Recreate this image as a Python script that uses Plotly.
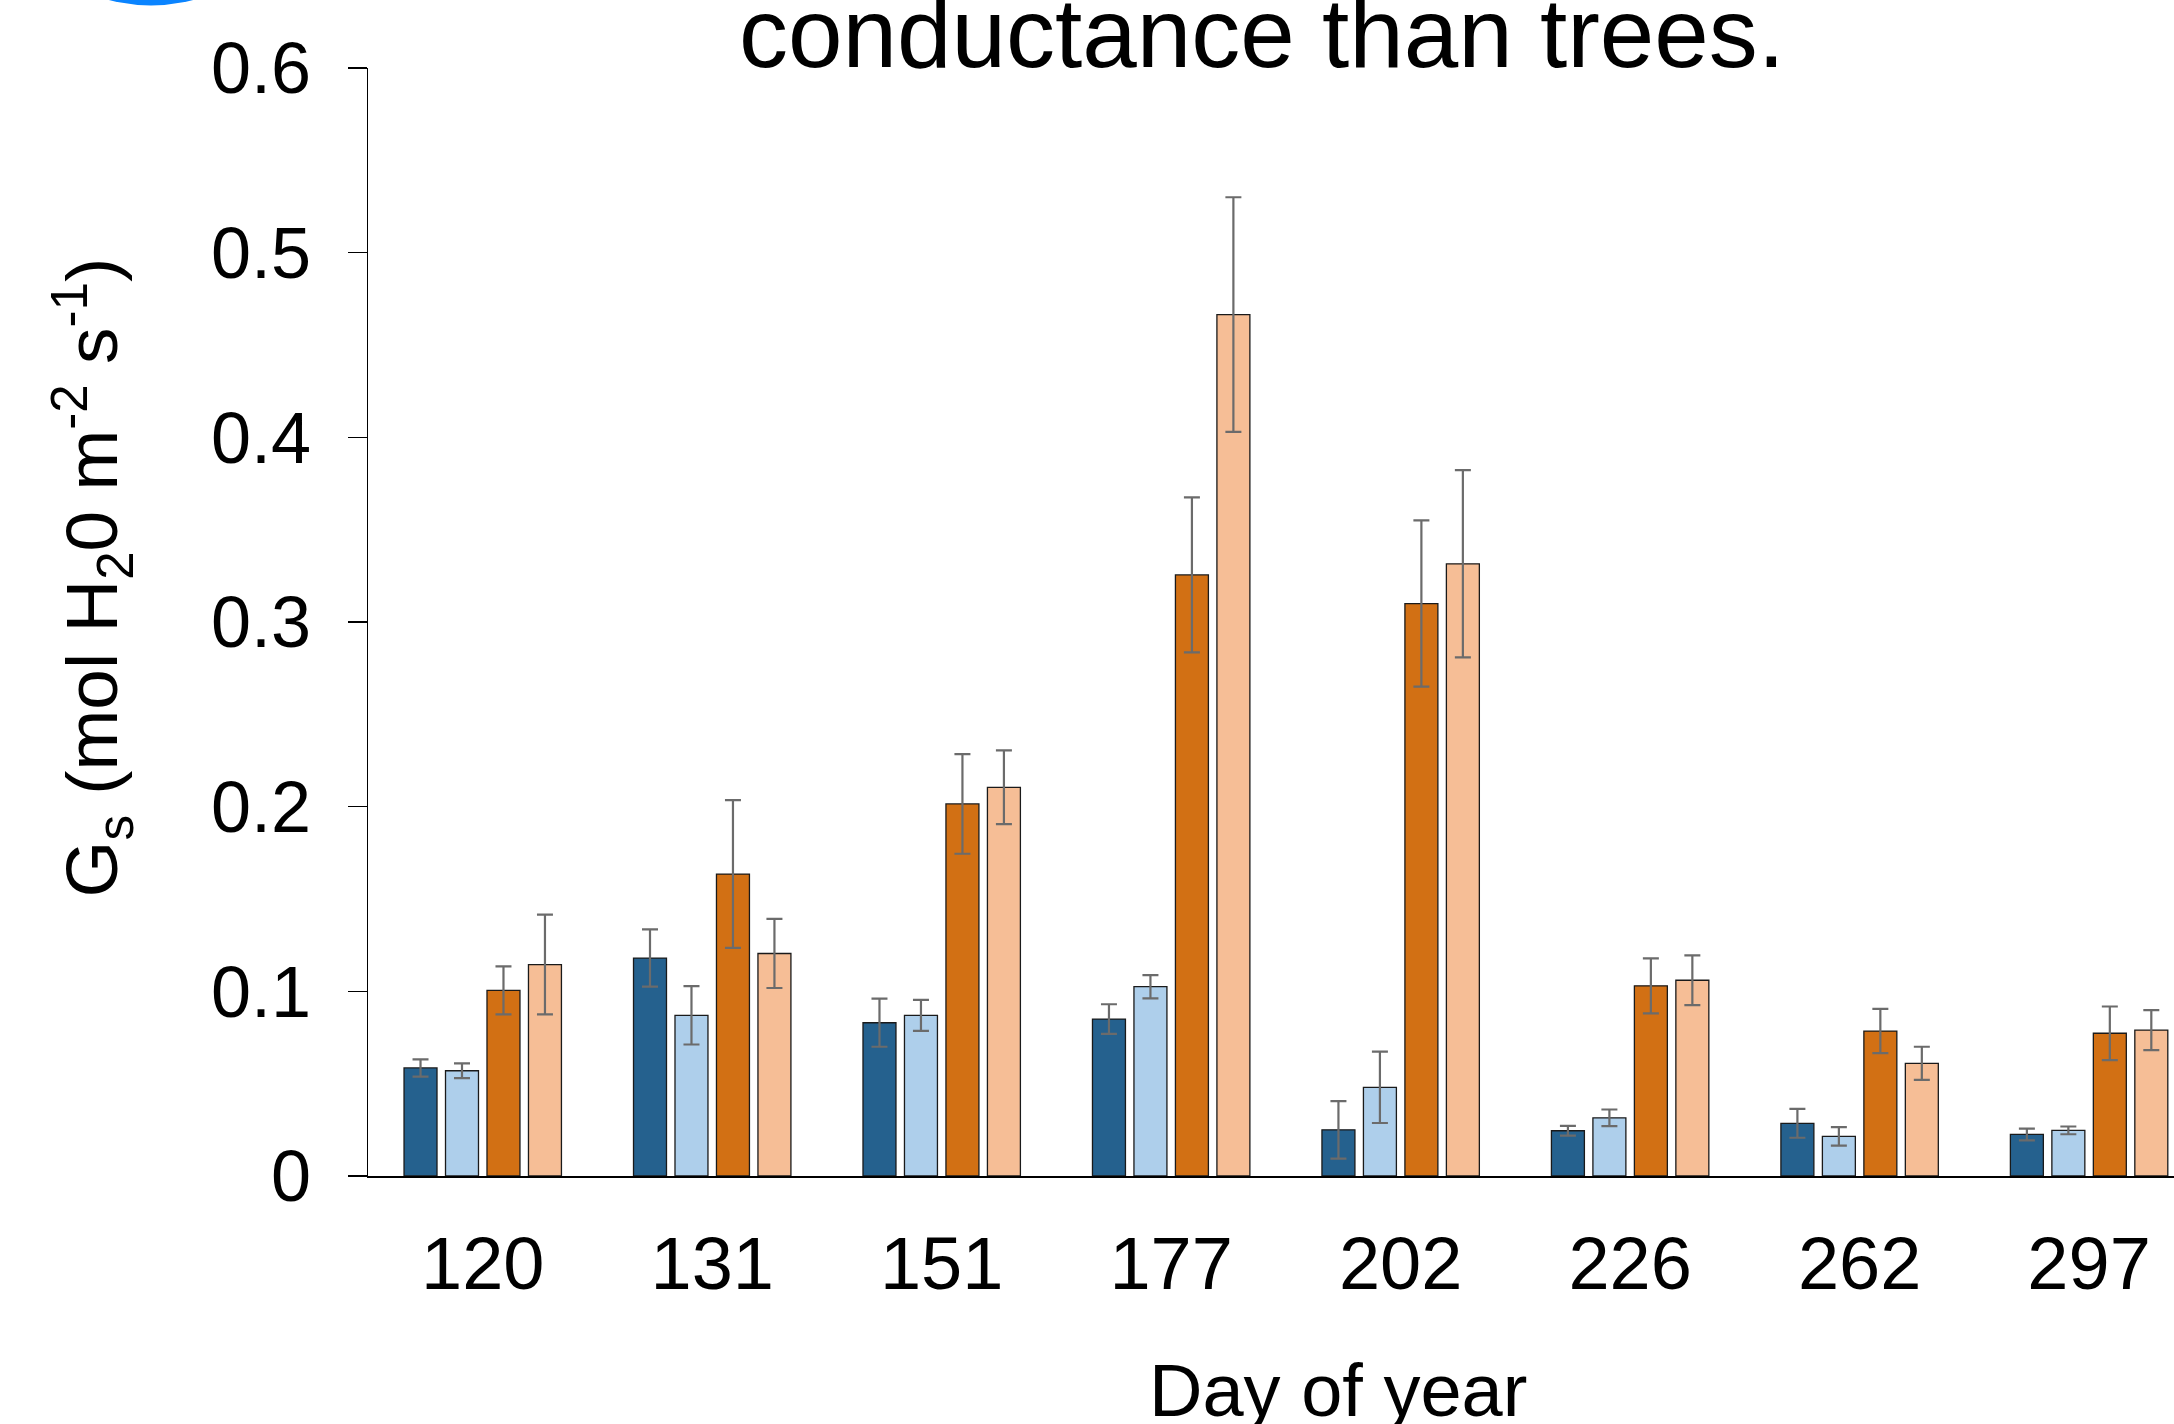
import plotly.graph_objects as go

days = ["120", "131", "151", "177", "202", "226", "262", "297"]

series_names = ["Trees 1", "Trees 2", "Grasses 1", "Grasses 2"]
series_colors = ["#25618E", "#AECFEB", "#D27014", "#F6BE96"]

trees_1 = [0.0585, 0.118, 0.083, 0.085, 0.025, 0.0245, 0.0285, 0.0225]
trees_1_err = [0.0047, 0.0155, 0.013, 0.008, 0.0156, 0.0026, 0.0078, 0.0032]
trees_2 = [0.057, 0.087, 0.087, 0.1025, 0.048, 0.0315, 0.0215, 0.0247]
trees_2_err = [0.004, 0.0158, 0.0084, 0.0063, 0.0193, 0.0045, 0.005, 0.0021]
grasses_1 = [0.1005, 0.1635, 0.2015, 0.3255, 0.310, 0.103, 0.0785, 0.0773]
grasses_1_err = [0.013, 0.040, 0.027, 0.042, 0.045, 0.0149, 0.012, 0.0145]
grasses_2 = [0.1145, 0.1205, 0.2105, 0.4665, 0.3315, 0.106, 0.061, 0.079]
grasses_2_err = [0.027, 0.0187, 0.020, 0.0635, 0.0507, 0.0135, 0.009, 0.0108]

values = [trees_1, trees_2, grasses_1, grasses_2]
errors = [trees_1_err, trees_2_err, grasses_1_err, grasses_2_err]

FONT = "Liberation Sans, Arial, Helvetica, sans-serif"

# page body margin is removed by the post script, so figure == page
W, H = 2174, 1424
# plot area in page pixels
P_LEFT, P_TOP, P_BOTTOM = 368, 67.5, 1175.7
ML = P_LEFT
MT = P_TOP
MB = H - P_BOTTOM
MR = 0
PW = W - ML - MR
PH = H - MT - MB


def px_x(px):
    return (px - P_LEFT) / PW


def px_y(py):
    return (P_BOTTOM - py) / PH


fig = go.Figure()
for name, color, vals, errs in zip(series_names, series_colors, values, errors):
    fig.add_trace(go.Bar(
        x=days, y=vals, name=name,
        marker=dict(color=color, line=dict(color="#1a1a1a", width=1.3)),
        error_y=dict(type="data", array=errs, visible=True,
                     color="#6b6b6b", thickness=2.2, width=8),
    ))

fig.update_layout(
    width=W, height=H,
    margin=dict(l=ML, r=MR, t=MT, b=MB, pad=0),
    paper_bgcolor="white", plot_bgcolor="white",
    barmode="group", bargap=0.277, bargroupgap=0.205,
    showlegend=False,
    font=dict(family=FONT, color="black"),
    title=dict(text="conductance than trees.", x=1262 / W, xanchor="center",
               xref="container",
               y=1 - 33 / H, yanchor="middle", yref="container",
               font=dict(size=98, color="black", family=FONT)),
    xaxis=dict(type="category", range=[-0.5, 7.37], showline=True,
               linecolor="black", linewidth=2.2, ticks="", showgrid=False,
               zeroline=False, tickfont=dict(size=74, family=FONT),
               ticklabelstandoff=22),
    yaxis=dict(range=[0, 0.6], dtick=0.1, tick0=0, showline=True,
               linecolor="black", linewidth=1.5, ticks="outside", ticklen=19,
               tickwidth=1.5, tickcolor="black", showgrid=False, zeroline=False,
               tickfont=dict(size=72, family=FONT), ticklabelstandoff=22),
    annotations=[
        dict(text="G<sub>s</sub> (mol H<sub>2</sub>0 m<sup>-2</sup> s<sup>-1</sup>)",
             xref="paper", yref="paper", x=px_x(92), y=px_y(577),
             xanchor="center", yanchor="middle", textangle=-90, showarrow=False,
             font=dict(size=73, family=FONT, color="black")),
        dict(text="Day of year", xref="paper", yref="paper",
             x=px_x(1338), y=px_y(1390), xanchor="center", yanchor="middle",
             showarrow=False, font=dict(size=74, family=FONT, color="black")),
    ],
    shapes=[
        dict(type="circle", xref="paper", yref="paper",
             x0=px_x(151 - 164), x1=px_x(151 + 164),
             y0=px_y(5), y1=px_y(5 - 328),
             fillcolor="#0A84FF", line=dict(width=0), layer="above"),
    ],
)

fig.write_html(
    "out.html",
    config={"displayModeBar": False, "staticPlot": True},
    post_script="document.body.style.margin='0';document.body.style.overflow='hidden';",
)
